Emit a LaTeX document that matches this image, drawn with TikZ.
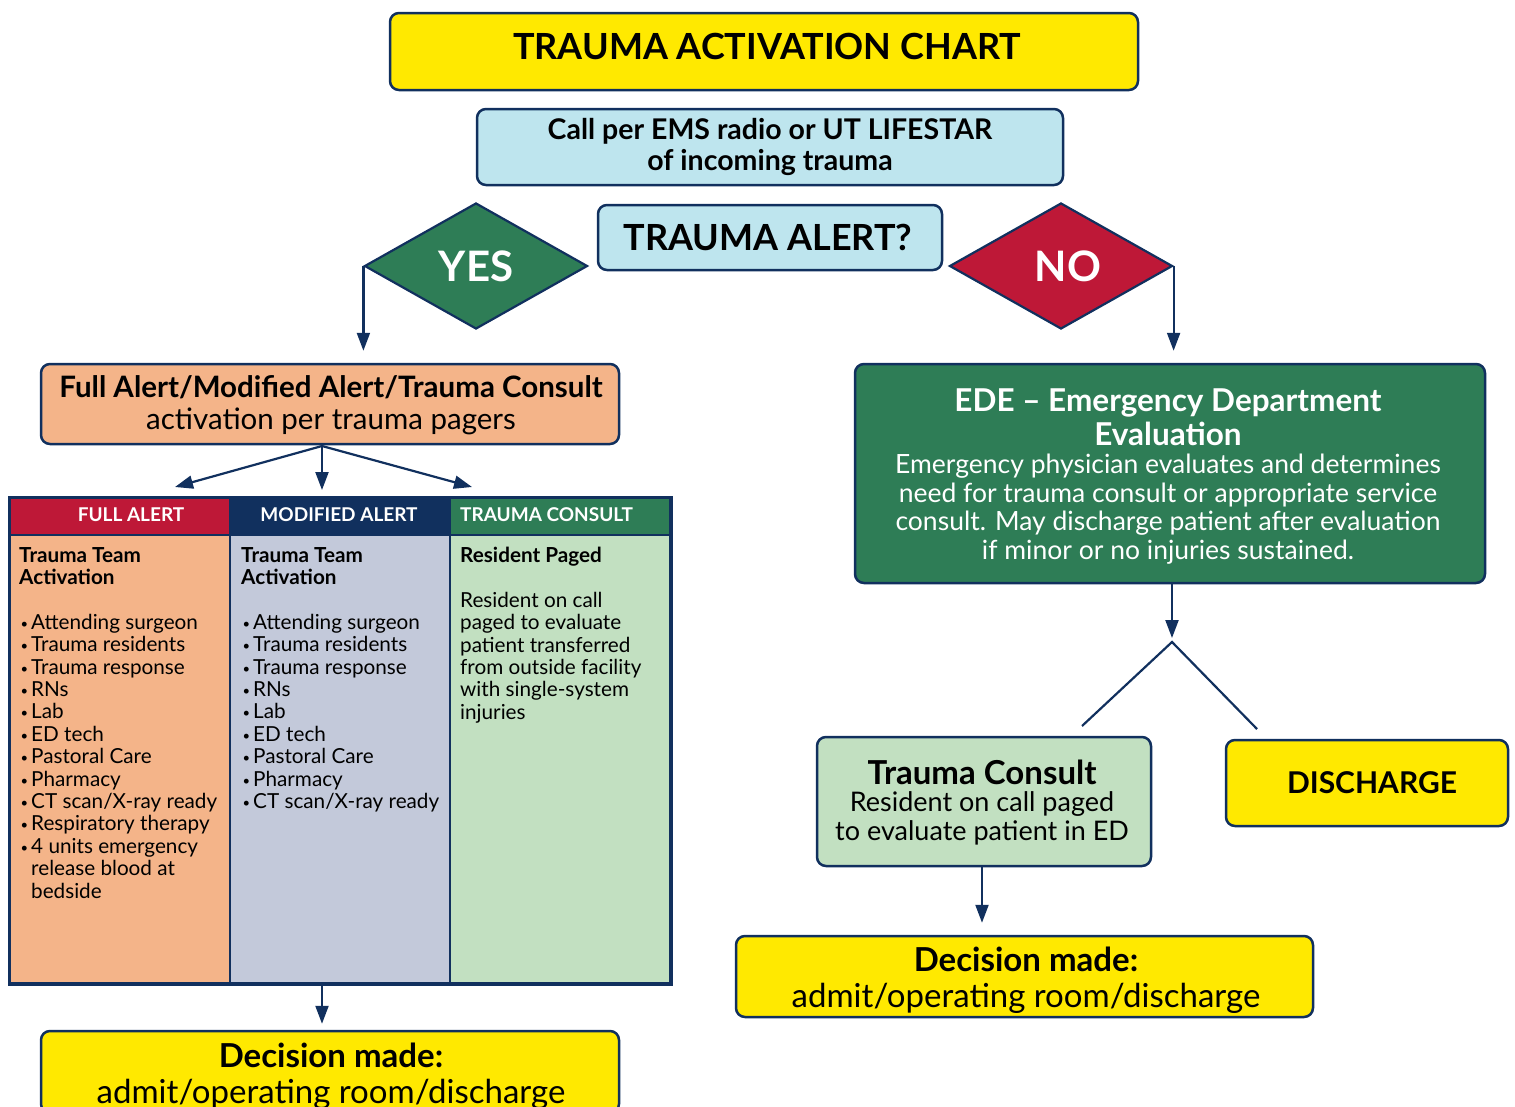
\documentclass[tikz,border=0pt]{standalone}
\usepackage{fontspec}
\setmainfont{Lato}
\usetikzlibrary{shapes.geometric,arrows.meta,calc}
\definecolor{navy}{HTML}{11305E}
\definecolor{yel}{HTML}{FFE900}
\definecolor{lblue}{HTML}{BEE5EE}
\definecolor{grn}{HTML}{2E7D56}
\definecolor{rd}{HTML}{BE1837}
\definecolor{peach}{HTML}{F4B489}
\definecolor{lav}{HTML}{C3C9DA}
\definecolor{lgrn}{HTML}{C2E0C1}
\newcommand\bul{\makebox[12pt][l]{\hspace{1.5pt}\raisebox{1pt}{\fontsize{13}{13}\selectfont\textbullet}}}
\newcommand\ind{\hspace*{12pt}}
\begin{document}
\begin{tikzpicture}[x=1pt,y=-1pt,
  box/.style={draw=navy,line width=2.5pt,rounded corners=9pt,inner sep=0pt},
  cell/.style={draw=navy,line width=2pt,inner sep=0pt,anchor=north west,minimum width=220pt},
  txt/.style={inner sep=0pt,align=center,text=black},
  ltxt/.style={inner sep=0pt,align=left,text=black,anchor=north west,font=\fontsize{20.7}{22.4}\selectfont},
  dia/.style={diamond,draw=navy,line width=2.2pt,inner sep=0pt,minimum width=223pt,minimum height=126pt,aspect=1.77},
  arr/.style={navy,line width=2.2pt,-{Triangle[length=18pt,width=13pt]}},
  ln/.style={navy,line width=2.2pt}
]
\useasboundingbox (0,0) rectangle (1515,1106);

% title and call
\node[box,fill=yel,minimum width=748pt,minimum height=77pt] (title) at (764,51.5) {};
\node[txt,font=\fontsize{36}{40}\selectfont\bfseries] (titleT) at (767,46) {TRAUMA ACTIVATION CHART};
\node[box,fill=lblue,minimum width=586pt,minimum height=76pt] (call) at (770,147) {};
\node[txt,font=\fontsize{28.5}{31}\selectfont\bfseries] (callT) at (770,147) {Call per EMS radio or UT LIFESTAR\\of incoming trauma};

% decision
\node[box,fill=lblue,minimum width=344pt,minimum height=65pt] (alert) at (770,237.5) {};
\node[txt,font=\fontsize{36}{40}\selectfont\bfseries] (alertT) at (768,237.5) {TRAUMA ALERT?};
\node[dia,fill=grn] (yes) at (476,266) {};
\node[txt,text=white,font=\fontsize{42}{46}\selectfont\bfseries] (yesT) at (476,266) {YES};
\node[dia,fill=rd] (no) at (1061,266) {};
\node[txt,text=white,font=\fontsize{42}{46}\selectfont\bfseries] (noT) at (1068,266) {NO};

% left branch
\node[box,fill=peach,minimum width=578pt,minimum height=80pt] (full) at (330,404) {};
\node[txt,font=\fontsize{29.5}{32}\selectfont] (fullT) at (331,405) {\textbf{Full Alert/Modified Alert/Trauma Consult}\\activation per trauma pagers};
\draw[arr,shorten >=12pt] (yes.west) -- (yes.west |- full.north);

\coordinate (fs) at (322,446);
\coordinate (t1) at (175,487);
\coordinate (t2) at (322,490);
\coordinate (t3) at (472,487);
\draw[arr] (fs) -- (t1);
\draw[arr] (fs) -- (t2);
\draw[arr] (fs) -- (t3);

% table
\node[cell,fill=rd,minimum height=37pt] (h1) at (9,497) {};
\node[cell,fill=navy,minimum height=37pt] (h2) at (229,497) {};
\node[cell,fill=grn,minimum height=37pt] (h3) at (449,497) {};
\node[cell,fill=peach,minimum height=448pt] (b1) at (9,534) {};
\node[cell,fill=lav,minimum height=448pt] (b2) at (229,534) {};
\node[cell,fill=lgrn,minimum height=448pt] (b3) at (449,534) {};
\draw[navy,line width=3pt] (b1.south west) rectangle (h3.north east);
\node[txt,text=white,font=\fontsize{19}{21}\selectfont\bfseries] (h1T) at (131,515) {FULL ALERT};
\node[txt,text=white,font=\fontsize{19}{21}\selectfont\bfseries] (h2T) at (339,515) {MODIFIED ALERT};
\node[txt,text=white,anchor=west,font=\fontsize{19}{21}\selectfont\bfseries] (h3T) at (460,515) {TRAUMA CONSULT};

\node[ltxt] (b1T) at (19,547) {\textbf{Trauma Team}\\\textbf{Activation}\\[22.4pt]
\bul Attending surgeon\\\bul Trauma residents\\\bul Trauma response\\\bul RNs\\\bul Lab\\\bul ED tech\\\bul Pastoral Care\\\bul Pharmacy\\\bul CT scan/X-ray ready\\\bul Respiratory therapy\\\bul 4 units emergency\\\ind release blood at\\\ind bedside};
\node[ltxt] (b2T) at (241,547) {\textbf{Trauma Team}\\\textbf{Activation}\\[22.4pt]
\bul Attending surgeon\\\bul Trauma residents\\\bul Trauma response\\\bul RNs\\\bul Lab\\\bul ED tech\\\bul Pastoral Care\\\bul Pharmacy\\\bul CT scan/X-ray ready};
\node[ltxt] (b3T) at (460,547) {\textbf{Resident Paged}\\[22.4pt]
Resident on call\\paged to evaluate\\patient transferred\\from outside facility\\with single-system\\injuries};

\node[box,fill=yel,minimum width=578pt,minimum height=82pt] (decL) at (330,1072) {};
\node[txt,font=\fontsize{33}{36}\selectfont] (decLT) at (331,1076) {\textbf{Decision made:}\\admit/operating room/discharge};
\draw[arr,shorten >=6pt] (fs |- b2.south) -- (fs |- decL.north);

% right branch
\node[box,fill=grn,minimum width=630pt,minimum height=219pt] (ede) at (1170,473.5) {};
\node[txt,text=white,font=\fontsize{31.5}{34}\selectfont\bfseries] (edeT1) at (1168,417) {EDE – Emergency Department\\Evaluation};
\node[txt,text=white,font=\fontsize{26.5}{28.7}\selectfont] (edeT2) at (1168,509) {Emergency physician evaluates and determines\\need for trauma consult or appropriate service\\consult. May discharge patient after evaluation\\if minor or no injuries sustained.};
\draw[arr,shorten >=12pt] (no.east) -- (no.east |- ede.north);

\coordinate (apex) at (1172,642);
\coordinate (sl) at (1082,726);
\coordinate (sr) at (1257,729);
\draw[arr] (ede.south -| apex) -- ([yshift=4pt]apex);
\draw[ln] (sl) -- (apex) -- (sr);

\node[box,fill=lgrn,minimum width=334pt,minimum height=129pt] (tc) at (984,801.5) {};
\node[txt,font=\fontsize{33}{36}\selectfont\bfseries] (tcT1) at (982,772) {Trauma Consult};
\node[txt,font=\fontsize{27}{29}\selectfont] (tcT2) at (982,818) {Resident on call paged\\to evaluate patient in ED};
\node[box,fill=yel,minimum width=282pt,minimum height=86pt] (dis) at (1367,783) {};
\node[txt,font=\fontsize{30}{34}\selectfont\bfseries] (disT) at (1372,783) {DISCHARGE};

\node[box,fill=yel,minimum width=577pt,minimum height=81pt] (decR) at (1024.5,976.5) {};
\node[txt,font=\fontsize{33}{36}\selectfont] (decRT) at (1026,980) {\textbf{Decision made:}\\admit/operating room/discharge};
\draw[arr,shorten >=12pt] ([xshift=-2pt]tc.south) -- ([xshift=-2pt]tc.south |- decR.north);
\end{tikzpicture}
\end{document}
